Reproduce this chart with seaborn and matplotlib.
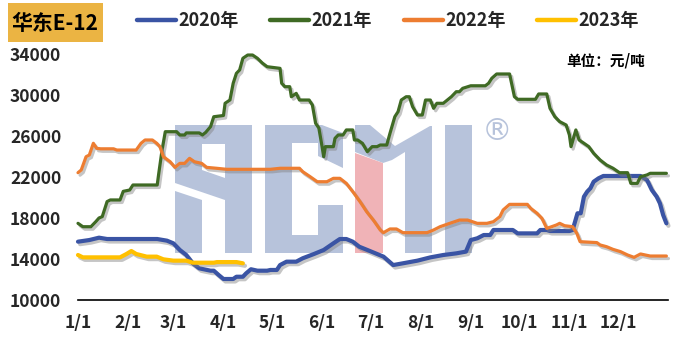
import matplotlib
matplotlib.use("Agg")
import matplotlib.pyplot as plt
import matplotlib.patheffects as pe
import matplotlib.transforms as mtransforms
from matplotlib.patches import Polygon, Rectangle
from matplotlib.lines import Line2D
import numpy as np
import pandas as pd
import seaborn as sns

# ---- data: East China E-12 price, day of year vs. yuan/ton ----
days_2020 = [0, 7, 13, 18, 49, 55, 59, 63, 67, 71, 75, 82, 84, 87, 90, 96, 98, 102, 104, 107,
             111, 117, 119, 123, 125, 129, 135, 139, 146, 152, 158, 162, 166, 170, 174, 179,
             185, 189, 195, 201, 210, 218, 226, 234, 240, 243, 247, 251, 255, 257, 269, 272,
             284, 286, 290, 292, 304, 306, 309, 311, 313, 315, 317, 319, 322, 325, 340, 348,
             352, 355, 358, 360, 362, 364]
price_2020 = [15690, 15850, 16080, 15950, 15950, 15790, 15530, 14880, 14390, 13580, 13090, 12860,
              12860, 12440, 12050, 12050, 12270, 12270, 12600, 13000, 12860, 12860, 12930, 12930,
              13410, 13740, 13740, 14070, 14490, 14880, 15530, 15950, 15950, 15690, 15200, 14880,
              14490, 14230, 13410, 13580, 13840, 14160, 14390, 14550, 14720, 15850, 16020, 16340,
              16340, 16830, 16830, 16500, 16500, 16830, 16830, 16730, 16730, 16830, 18460, 18460,
              20080, 20570, 20900, 21540, 21870, 22100, 22100, 22100, 21710, 20730, 20080, 19430,
              18290, 17480]

days_2021 = [0, 3, 8, 11, 13, 15, 18, 20, 26, 28, 32, 34, 49, 50, 52, 54, 61, 63, 66, 67, 75, 77,
             79, 82, 84, 90, 91, 94, 96, 98, 100, 102, 105, 108, 111, 114, 117, 125, 126, 128,
             131, 132, 135, 137, 143, 145, 147, 149, 151, 152, 153, 158, 159, 161, 164, 166, 170,
             171, 173, 176, 179, 182, 185, 187, 191, 193, 196, 198, 200, 203, 205, 207, 210, 213,
             215, 218, 220, 222, 226, 231, 234, 236, 238, 243, 252, 254, 256, 259, 267, 270, 272,
             283, 285, 290, 292, 295, 298, 302, 304, 305, 308, 310, 313, 316, 319, 323, 327, 331,
             335, 340, 342, 346, 348, 352, 354, 364]
price_2021 = [17480, 17150, 17150, 17640, 18000, 18130, 19600, 19760, 19760, 20600, 20730, 21220,
              21220, 22390, 24630, 26420, 26420, 26100, 26100, 26300, 26300, 26100, 26350, 26910,
              27880, 28000, 29190, 29510, 31140, 32110, 32440, 33580, 33900, 33900, 33580, 33120,
              32760, 32600, 31140, 30810, 30810, 29830, 30160, 29510, 29510, 29020, 27240, 26780,
              24960, 23980, 24960, 24960, 25770, 26100, 26100, 26590, 26590, 25610, 25610, 25280,
              24470, 24960, 24960, 25120, 25120, 26260, 27880, 28370, 29510, 29830, 29830, 28860,
              28050, 28050, 29510, 29510, 28700, 29190, 29190, 29830, 30320, 30320, 30650, 30900,
              30900, 31140, 31630, 32050, 32050, 29830, 29580, 29580, 30100, 30100, 28700, 27880,
              27400, 27070, 26100, 24960, 26590, 25610, 25290, 24960, 24310, 23660, 23170, 22850,
              22420, 22420, 21380, 21380, 22030, 22200, 22360, 22360]

days_2022 = [0, 2, 5, 7, 9.5, 11.5, 14, 22, 24, 36, 39, 41.5, 46, 48.7, 50.7, 52.8, 57, 60, 63,
             66, 69, 72, 76.5, 79.6, 85.8, 92, 119, 125, 137, 139, 143.6, 148, 154, 158, 162, 166,
             170, 174.5, 178.6, 182.7, 187, 189, 193, 197, 201, 216, 220, 224, 230, 236, 241,
             247, 253, 257, 261, 263, 267, 278, 280, 284, 287, 290, 293, 296, 298, 301, 306,
             308.6, 310.6, 321, 323, 327, 331, 335.6, 340, 344, 348, 351, 354, 364]
price_2022 = [22420, 22680, 23980, 24140, 25290, 24800, 24750, 24750, 24630, 24630, 25290, 25610,
              25610, 25290, 24960, 23980, 23490, 22940, 23330, 23330, 23820, 23490, 23330, 22940,
              22850, 22750, 22750, 22850, 22850, 22520, 22030, 21540, 21540, 21870, 21870, 21380,
              20570, 19590, 18610, 17800, 16830, 16570, 16930, 16930, 16570, 16570, 16830, 17150,
              17480, 17800, 17800, 17480, 17480, 17640, 18130, 18780, 19330, 19330, 18950, 18460,
              17970, 16990, 17150, 17320, 17480, 17250, 17150, 16500, 15690, 15600, 15370, 15200,
              14940, 14720, 14390, 14160, 14490, 14390, 14290, 14290]

days_2023 = [0, 3, 26, 30, 33, 36, 42.5, 48.7, 52.8, 59, 67, 71, 84, 86, 98, 102]
price_2023 = [14390, 14160, 14160, 14490, 14780, 14490, 14230, 14230, 13970, 13840, 13840, 13640,
              13640, 13700, 13700, 13580]

years = ["2020年", "2021年", "2022年", "2023年"]
colors = ["#3A54A4", "#3F6A24", "#ED7D31", "#FFC000"]
widths = [3.0, 2.3, 2.3, 3.0]

month_ticks = [0, 31, 59, 90, 120, 151, 181, 212, 243, 273, 304, 334]
month_labels = ["1/1", "2/1", "3/1", "4/1", "5/1", "6/1", "7/1", "8/1", "9/1", "10/1", "11/1", "12/1"]
y_ticks = [10000, 14000, 18000, 22000, 26000, 30000, 34000]

series = {
    "2020年": (days_2020, price_2020),
    "2021年": (days_2021, price_2021),
    "2022年": (days_2022, price_2022),
    "2023年": (days_2023, price_2023),
}
df = pd.concat(
    [pd.DataFrame({"day": d, "price": p, "year": y}) for y, (d, p) in series.items()],
    ignore_index=True,
)

sns.set_style("white")
plt.rcParams["font.family"] = ["Noto Sans CJK SC", "DejaVu Sans"]
plt.rcParams["font.weight"] = "bold"

W, H = 682, 350
fig = plt.figure(figsize=(W / 100, H / 100), dpi=100)
ax = fig.add_axes([78 / W, 1 - 300 / H, 590 / W, 246 / H])

# pixel-space transform (origin top-left) for decorative elements
px = mtransforms.Affine2D().scale(1 / W, -1 / H).translate(0, 1) + fig.transFigure

# light logo in the plotting area
wm_blue = "#B7C3DB"
wm_pink = "#F0B3B7"
shapes = [
    ([(175, 125), (252, 125), (252, 253), (225, 253), (225, 200), (175, 183)], wm_blue),
    ([(202, 144), (225, 144), (225, 178), (202, 170)], "white"),
    ([(175, 191), (202, 200), (202, 253), (175, 253)], wm_blue),
    ([(265, 125), (322, 125), (343, 133), (343, 168), (318, 156), (318, 143), (292, 143),
      (292, 235), (318, 235), (318, 205), (343, 205), (343, 253), (265, 253)], wm_blue),
    ([(355, 125), (370, 125), (395, 146), (430, 126), (432, 126), (432, 253), (405, 253),
      (405, 152), (392, 160), (383, 163), (355, 152)], wm_blue),
    ([(355, 153), (383, 163), (383, 253), (355, 253)], wm_pink),
    ([(445, 125), (472, 125), (472, 253), (445, 253)], wm_blue),
]
for pts, c in shapes:
    ax.add_patch(Polygon(pts, closed=True, facecolor=c, edgecolor="none",
                         transform=px, zorder=0.5))
ax.text(497, 132, "®", transform=px, fontsize=22, color=wm_blue, fontweight="normal",
        family="DejaVu Sans", ha="center", va="center", zorder=0.6)

for y, c, lw in zip(years, colors, widths):
    sns.lineplot(data=df[df["year"] == y], x="day", y="price", color=c, linewidth=lw,
                 sort=False, estimator=None, ax=ax, legend=False)

for line in ax.lines:
    line.set_solid_joinstyle("round")
    line.set_solid_capstyle("round")
    line.set_path_effects([
        pe.SimpleLineShadow(offset=(1.5, -1.8), shadow_color="#808080", alpha=0.45),
        pe.Normal(),
    ])
    line.set_zorder(2)
    line.set_clip_on(False)

ax.set_xlim(0, 365)
ax.set_ylim(10000, 34000)
ax.set_xticks(month_ticks)
ax.set_xticklabels(month_labels)
ax.set_yticks(y_ticks)
ax.set_yticklabels([str(v) for v in y_ticks])
ax.tick_params(axis="both", length=0, labelsize=12.5)
ax.tick_params(axis="y", pad=12)
ax.tick_params(axis="x", pad=10)
for lab in ax.get_xticklabels() + ax.get_yticklabels():
    lab.set_fontweight("bold")
ax.set_xlabel("")
ax.set_ylabel("")
for s in ["left", "right", "top"]:
    ax.spines[s].set_visible(False)
ax.spines["bottom"].set_color("black")
ax.spines["bottom"].set_linewidth(1.2)
ax.grid(False)

# title tag
fig.add_artist(Rectangle((8, 3), 95, 39, transform=px, facecolor="#EBB443",
                         edgecolor="none", zorder=1))
fig.text(55, 23, "华东E-12", transform=px, fontsize=15, fontweight="bold",
         ha="center", va="center", color="black", zorder=2)

# unit label
fig.text(606, 60, "单位：元/吨", transform=px, fontsize=10.5, fontweight="bold",
         ha="center", va="center", color="black")

handles = [Line2D([0], [0], color=c, linewidth=3.2, solid_capstyle="round") for c in colors]
fig.legend(handles, years, loc="center", bbox_to_anchor=(388 / W, 1 - 21 / H), ncol=4,
           frameon=False, prop={"weight": "bold", "size": 13}, handlelength=2.15,
           handletextpad=0.15, columnspacing=1.75, borderpad=0, borderaxespad=0)

fig.savefig("out.png", dpi=100)
